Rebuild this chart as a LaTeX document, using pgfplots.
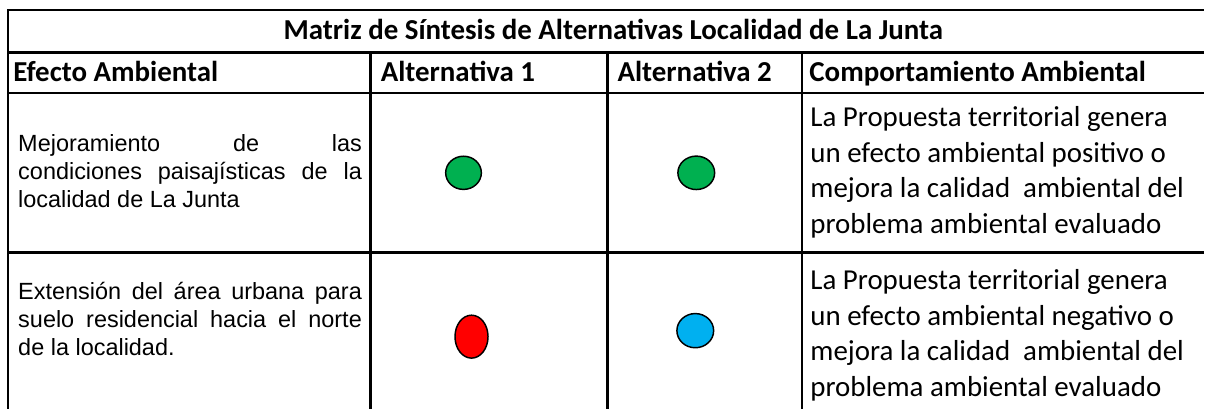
\documentclass[border=0pt]{standalone}
\usepackage{pgfplots}
\pgfplotsset{compat=1.18}
\usepackage{fontspec}
\setmainfont{Carlito}
\newfontfamily\arial{Liberation Sans}
\definecolor{okgreen}{HTML}{00B050}
\definecolor{okblue}{HTML}{00B0F0}
\definecolor{okred}{HTML}{FF0000}
\begin{document}
\begin{tikzpicture}
\begin{axis}[width=903.75pt,height=306.75pt,scale only axis,
  xmin=0,xmax=1205,ymin=0,ymax=409,y dir=reverse,hide axis,clip=false]
\addplot[draw=none] coordinates {(0,0) (1205,409)};
% grid lines
\addplot[black,line width=1.9pt] coordinates {(1205,10) (8,10) (8,409)};
\addplot[black,line width=1.9pt] coordinates {(8,52.5) (1205,52.5)};
\addplot[black,line width=1.9pt] coordinates {(8,93) (1205,93)};
\addplot[black,line width=1.9pt] coordinates {(8,253) (1205,253)};
\addplot[black,line width=1.9pt] coordinates {(371,52.5) (371,409)};
\addplot[black,line width=1.9pt] coordinates {(608,52.5) (608,409)};
\addplot[black,line width=1.9pt] coordinates {(803,52.5) (803,409)};
% markers
\addplot[only marks,mark=*,mark size=13.4pt,mark options={fill=okgreen,draw=black,line width=1.1pt,yscale=0.93}] coordinates {(464,173)};
\addplot[only marks,mark=*,mark size=13.8pt,mark options={fill=okgreen,draw=black,line width=1.1pt,yscale=0.91}] coordinates {(697,173)};
\addplot[only marks,mark=*,mark size=12.4pt,mark options={fill=okred,draw=black,line width=1.1pt,yscale=1.3}] coordinates {(472,337)};
\addplot[only marks,mark=*,mark size=13.8pt,mark options={fill=okblue,draw=black,line width=1.1pt,yscale=0.93}] coordinates {(696,331)};
% title and headers
\node[anchor=base,inner sep=0,font=\bfseries\fontsize{21.7}{26}\selectfont] at (axis cs:614,40) {Matriz de Síntesis de Alternativas Localidad de La Junta};
\node[anchor=base west,inner sep=0,font=\bfseries\fontsize{21.7}{26}\selectfont] at (axis cs:13,81.5) {Efecto Ambiental};
\node[anchor=base west,inner sep=0,font=\bfseries\fontsize{21.7}{26}\selectfont] at (axis cs:381,81.5) {Alternativa 1};
\node[anchor=base west,inner sep=0,font=\bfseries\fontsize{21.7}{26}\selectfont] at (axis cs:618,81.5) {Alternativa 2};
\node[anchor=base west,inner sep=0,font=\bfseries\fontsize{21.7}{26}\selectfont] at (axis cs:810,81.5) {Comportamiento Ambiental};
% left column row 1
\node[anchor=base west,inner sep=0,font=\arial\fontsize{17.6}{21}\selectfont] at (axis cs:18,152) {\makebox[258pt][s]{Mejoramiento de las}};
\node[anchor=base west,inner sep=0,font=\arial\fontsize{17.6}{21}\selectfont] at (axis cs:18,180) {\makebox[258pt][s]{condiciones paisajísticas de la}};
\node[anchor=base west,inner sep=0,font=\arial\fontsize{17.6}{21}\selectfont] at (axis cs:18,208) {localidad de La Junta};
% left column row 2
\node[anchor=base west,inner sep=0,font=\arial\fontsize{17.6}{21}\selectfont] at (axis cs:18,300) {\makebox[258pt][s]{Extensión del área urbana para}};
\node[anchor=base west,inner sep=0,font=\arial\fontsize{17.6}{21}\selectfont] at (axis cs:18,328) {\makebox[258pt][s]{suelo residencial hacia el norte}};
\node[anchor=base west,inner sep=0,font=\arial\fontsize{17.6}{21}\selectfont] at (axis cs:18,356) {de la localidad.};
% right column row 1
\node[anchor=base west,inner sep=0,font=\fontsize{21.7}{26}\selectfont] at (axis cs:811,127) {La Propuesta territorial genera};
\node[anchor=base west,inner sep=0,font=\fontsize{21.7}{26}\selectfont] at (axis cs:811,162.5) {un efecto ambiental positivo o};
\node[anchor=base west,inner sep=0,font=\fontsize{21.7}{26}\selectfont] at (axis cs:811,198) {mejora la calidad\ \ ambiental del};
\node[anchor=base west,inner sep=0,font=\fontsize{21.7}{26}\selectfont] at (axis cs:811,233.5) {problema ambiental evaluado};
% right column row 2
\node[anchor=base west,inner sep=0,font=\fontsize{21.7}{26}\selectfont] at (axis cs:811,290) {La Propuesta territorial genera};
\node[anchor=base west,inner sep=0,font=\fontsize{21.7}{26}\selectfont] at (axis cs:811,325.5) {un efecto ambiental negativo o};
\node[anchor=base west,inner sep=0,font=\fontsize{21.7}{26}\selectfont] at (axis cs:811,361) {mejora la calidad\ \ ambiental del};
\node[anchor=base west,inner sep=0,font=\fontsize{21.7}{26}\selectfont] at (axis cs:811,396.5) {problema ambiental evaluado};
\end{axis}
\end{tikzpicture}
\end{document}
